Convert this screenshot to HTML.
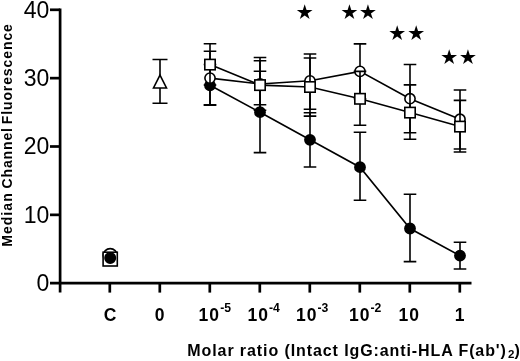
<!DOCTYPE html>
<html lang="en"><head><meta charset="utf-8"><title>Median Channel Fluorescence vs Molar ratio</title>
<style>html,body{margin:0;padding:0;background:#fff;}svg{display:block;}text{font-family:"Liberation Sans",Arial,sans-serif;fill:#000;}.b{font-weight:bold;}.star{font-family:"DejaVu Sans",sans-serif;}</style></head><body>
<svg width="520" height="361" viewBox="0 0 520 361">
<rect width="520" height="361" fill="#fff"/>
<g stroke="#000" stroke-width="2.7" fill="none" stroke-linecap="butt">
<line x1="60.1" y1="8.45" x2="60.1" y2="292.4"/>
<line x1="50" y1="283.2" x2="471.5" y2="283.2"/>
<line x1="50" y1="214.85" x2="60" y2="214.85"/>
<line x1="50" y1="146.50" x2="60" y2="146.50"/>
<line x1="50" y1="78.15" x2="60" y2="78.15"/>
<line x1="50" y1="9.80" x2="60" y2="9.80"/>
<line x1="109.8" y1="283.2" x2="109.8" y2="292.6"/>
<line x1="159.8" y1="283.2" x2="159.8" y2="292.6"/>
<line x1="209.8" y1="283.2" x2="209.8" y2="292.6"/>
<line x1="259.8" y1="283.2" x2="259.8" y2="292.6"/>
<line x1="309.8" y1="283.2" x2="309.8" y2="292.6"/>
<line x1="359.8" y1="283.2" x2="359.8" y2="292.6"/>
<line x1="409.8" y1="283.2" x2="409.8" y2="292.6"/>
<line x1="459.8" y1="283.2" x2="459.8" y2="292.6"/>
</g>
<text x="49.3" y="290.90" font-size="23" text-anchor="end">0</text>
<text x="49.3" y="222.55" font-size="23" text-anchor="end">10</text>
<text x="49.3" y="154.20" font-size="23" text-anchor="end">20</text>
<text x="49.3" y="85.85" font-size="23" text-anchor="end">30</text>
<text x="49.3" y="17.50" font-size="23" text-anchor="end">40</text>
<text class="b" x="110" y="320.8" font-size="17.5" text-anchor="middle">C</text>
<text class="b" x="159.5" y="320.8" font-size="17.5" text-anchor="middle">0</text>
<text class="b" x="198.6" y="320.8" font-size="17.5"><tspan letter-spacing="1">1</tspan>0<tspan font-size="12.2" dy="-8.5" dx="1.1">-5</tspan></text>
<text class="b" x="247.5" y="320.8" font-size="17.5"><tspan letter-spacing="1">1</tspan>0<tspan font-size="12.2" dy="-8.5" dx="1.1">-4</tspan></text>
<text class="b" x="296.0" y="320.8" font-size="17.5"><tspan letter-spacing="1">1</tspan>0<tspan font-size="12.2" dy="-8.5" dx="1.1">-3</tspan></text>
<text class="b" x="348.9" y="320.8" font-size="17.5"><tspan letter-spacing="1">1</tspan>0<tspan font-size="12.2" dy="-8.5" dx="1.1">-2</tspan></text>
<text class="b" x="398.4" y="320.8" font-size="17.5"><tspan letter-spacing="1">1</tspan>0</text>
<text class="b" x="459.6" y="320.8" font-size="17.5" text-anchor="middle">1</text>
<text class="b" font-size="16" y="356.2"><tspan x="187.3" textLength="318.6" lengthAdjust="spacing">Molar ratio (Intact IgG:anti-HLA F(ab')</tspan><tspan x="508" y="357.8" font-size="11.5">2</tspan><tspan x="514.6" y="356.2">)</tspan></text>
<text class="b" transform="translate(11.6,246.8) rotate(-90)" font-size="14" y="0"><tspan x="0" textLength="53.5" lengthAdjust="spacing">Median</tspan> <tspan x="58.3" textLength="60.5" lengthAdjust="spacing">Channel</tspan> <tspan x="122.5" textLength="100.2" lengthAdjust="spacing">Fluorescence</tspan></text>
<g stroke="#000" stroke-width="1.6" fill="none">
<polyline points="210,85.30 260,112.20 310,139.80 360,167.20 410,228.50 460,255.70"/>
<path d="M210,64.50V105.20M203.7,64.50H216.3M203.7,105.20H216.3"/>
<path d="M260,71.20V152.60M253.7,71.20H266.3M253.7,152.60H266.3"/>
<path d="M310,112.70V167.00M303.7,112.70H316.3M303.7,167.00H316.3"/>
<path d="M360,132.20V200.30M353.7,132.20H366.3M353.7,200.30H366.3"/>
<path d="M410,194.20V261.60M403.7,194.20H416.3M403.7,261.60H416.3"/>
<path d="M460,242.30V269.00M453.7,242.30H466.3M453.7,269.00H466.3"/>
<circle cx="210" cy="85.30" r="5.1" fill="#000"/>
<circle cx="260" cy="112.20" r="5.1" fill="#000"/>
<circle cx="310" cy="139.80" r="5.1" fill="#000"/>
<circle cx="360" cy="167.20" r="5.1" fill="#000"/>
<circle cx="410" cy="228.50" r="5.1" fill="#000"/>
<circle cx="460" cy="255.70" r="5.1" fill="#000"/>
</g>
<g stroke="#000" stroke-width="1.6" fill="none">
<polyline points="210,78.10 260,84.00 310,80.80 360,71.40 410,98.70 460,119.20"/>
<path d="M210,51.30V104.80M203.7,51.30H216.3M203.7,104.80H216.3"/>
<path d="M260,57.50V110.30M253.7,57.50H266.3M253.7,110.30H266.3"/>
<path d="M310,54.00V109.30M303.7,54.00H316.3M303.7,109.30H316.3"/>
<path d="M360,43.90V98.70M353.7,43.90H366.3M353.7,98.70H366.3"/>
<path d="M410,64.50V132.80M403.7,64.50H416.3M403.7,132.80H416.3"/>
<path d="M460,90.00V149.00M453.7,90.00H466.3M453.7,149.00H466.3"/>
<circle cx="210" cy="78.10" r="5.1" fill="#fff"/>
<circle cx="260" cy="84.00" r="5.1" fill="#fff"/>
<circle cx="310" cy="80.80" r="5.1" fill="#fff"/>
<circle cx="360" cy="71.40" r="5.1" fill="#fff"/>
<circle cx="410" cy="98.70" r="5.1" fill="#fff"/>
<circle cx="460" cy="119.20" r="5.1" fill="#fff"/>
</g>
<g stroke="#000" stroke-width="1.6" fill="none">
<polyline points="210,64.60 260,85.10 310,87.00 360,98.80 410,112.60 460,126.60"/>
<path d="M210,43.80V85.00M203.7,43.80H216.3M203.7,85.00H216.3"/>
<path d="M260,60.70V104.80M253.7,60.70H266.3M253.7,104.80H266.3"/>
<path d="M310,58.00V116.10M303.7,58.00H316.3M303.7,116.10H316.3"/>
<path d="M360,71.40V125.30M353.7,71.40H366.3M353.7,125.30H366.3"/>
<path d="M410,84.90V139.30M403.7,84.90H416.3M403.7,139.30H416.3"/>
<path d="M460,100.40V152.00M453.7,100.40H466.3M453.7,152.00H466.3"/>
<rect x="204.8" y="59.40" width="10.4" height="10.4" fill="#fff"/>
<rect x="254.8" y="79.90" width="10.4" height="10.4" fill="#fff"/>
<rect x="304.8" y="81.80" width="10.4" height="10.4" fill="#fff"/>
<rect x="354.8" y="93.60" width="10.4" height="10.4" fill="#fff"/>
<rect x="404.8" y="107.40" width="10.4" height="10.4" fill="#fff"/>
<rect x="454.8" y="121.40" width="10.4" height="10.4" fill="#fff"/>
</g>
<g stroke="#000" stroke-width="1.6" fill="#fff">
<circle cx="110.2" cy="255.6" r="7"/>
<rect x="103.1" y="252.2" width="14.2" height="13.8"/>
<circle cx="110.2" cy="258" r="5.2" fill="#000"/>
</g>
<g stroke="#000" stroke-width="1.6" fill="none">
<path d="M160,59.5V103.3M152.5,59.5H167.5M152.5,103.3H167.5"/>
<path d="M160,75.1L166.5,88H153.5Z" fill="#fff"/>
</g>
<text class="star" x="304.6" y="19.3" font-size="20.5" text-anchor="middle">★</text>
<text class="star" x="349.5" y="19.3" font-size="20.5" text-anchor="middle">★</text>
<text class="star" x="368.0" y="19.3" font-size="20.5" text-anchor="middle">★</text>
<text class="star" x="397.2" y="40.099999999999994" font-size="20.5" text-anchor="middle">★</text>
<text class="star" x="416.2" y="40.099999999999994" font-size="20.5" text-anchor="middle">★</text>
<text class="star" x="449.3" y="63.5" font-size="20.5" text-anchor="middle">★</text>
<text class="star" x="468.0" y="63.5" font-size="20.5" text-anchor="middle">★</text>
</svg></body></html>
